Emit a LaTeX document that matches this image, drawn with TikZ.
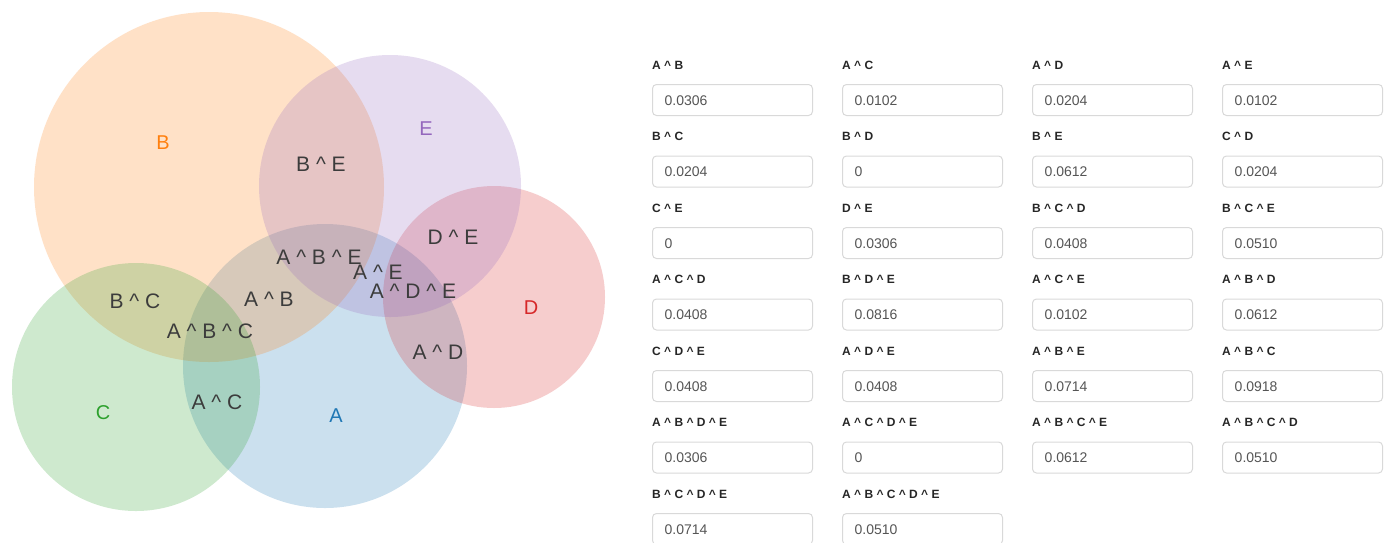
\documentclass[tikz,border=0pt]{standalone}
\usepackage{fontspec}
\setmainfont{Liberation Sans}
\newcommand{\andop}{ \textasciicircum{} }
\definecolor{setA}{HTML}{1F77B4}
\definecolor{setB}{HTML}{FF7F0E}
\definecolor{setC}{HTML}{2CA02C}
\definecolor{setD}{HTML}{D62728}
\definecolor{setE}{HTML}{9467BD}
\definecolor{inktext}{HTML}{3C3C3C}
\definecolor{fieldline}{HTML}{D9D9D9}
\definecolor{fieldtext}{HTML}{555555}
\begin{document}
\begin{tikzpicture}[x=1pt,y=-1pt,
  setdisc/.style={circle,fill opacity=0.23,draw=none},
  setname/.style={font=\fontsize{20}{20}\selectfont,inner sep=0pt},
  zone/.style={font=\fontsize{21}{21}\selectfont,text=inktext,inner sep=0pt},
  fieldlabel/.style={font=\fontsize{12}{12}\selectfont\bfseries,text=black!85,anchor=base west,inner sep=0pt},
  field/.style={draw=fieldline,line width=1pt,rounded corners=4pt,fill=white},
  fieldvalue/.style={font=\fontsize{14}{14}\selectfont,text=fieldtext,anchor=base west,inner sep=0pt}]
\useasboundingbox (0,0) rectangle (1388,542);

% the five sets
\fill[setdisc,fill=setA] (325,366) circle (142);
\fill[setdisc,fill=setB] (209,187) circle (175);
\fill[setdisc,fill=setC] (136,387) circle (124);
\fill[setdisc,fill=setD] (494,297) circle (111);
\fill[setdisc,fill=setE] (390,186) circle (131);

% set names
\node[setname,text=setB] (nB) at (163,143) {B};
\node[setname,text=setE] (nE) at (426,129) {E};
\node[setname,text=setD] (nD) at (531,308) {D};
\node[setname,text=setC] (nC) at (103,413) {C};
\node[setname,text=setA] (nA) at (336,416) {A};

% intersection zones
\node[zone] (zBE)  at (321,164) {B\andop E};
\node[zone] (zDE)  at (453,237) {D\andop E};
\node[zone] (zABE) at (319,257) {A\andop B\andop E};
\node[zone] (zAE)  at (378,272) {A\andop E};
\node[zone] (zADE) at (413,291) {A\andop D\andop E};
\node[zone] (zBC)  at (135,301) {B\andop C};
\node[zone] (zAB)  at (269,299) {A\andop B};
\node[zone] (zABC) at (210,331) {A\andop B\andop C};
\node[zone] (zAD)  at (438,352) {A\andop D};
\node[zone] (zAC)  at (217,402) {A\andop C};

% value fields: column x, row y
\foreach \lab/\val/\c/\r in {
  A\andop B/0.0306/0/0, A\andop C/0.0102/1/0, A\andop D/0.0204/2/0, A\andop E/0.0102/3/0,
  B\andop C/0.0204/0/1, B\andop D/0/1/1, B\andop E/0.0612/2/1, C\andop D/0.0204/3/1,
  C\andop E/0/0/2, D\andop E/0.0306/1/2, B\andop C\andop D/0.0408/2/2, B\andop C\andop E/0.0510/3/2,
  A\andop C\andop D/0.0408/0/3, B\andop D\andop E/0.0816/1/3, A\andop C\andop E/0.0102/2/3, A\andop B\andop D/0.0612/3/3,
  C\andop D\andop E/0.0408/0/4, A\andop D\andop E/0.0408/1/4, A\andop B\andop E/0.0714/2/4, A\andop B\andop C/0.0918/3/4,
  A\andop B\andop D\andop E/0.0306/0/5, A\andop C\andop D\andop E/0/1/5, A\andop B\andop C\andop E/0.0612/2/5, A\andop B\andop C\andop D/0.0510/3/5,
  B\andop C\andop D\andop E/0.0714/0/6, A\andop B\andop C\andop D\andop E/0.0510/1/6} {
  \pgfmathsetmacro{\fx}{652+190*\c}
  \pgfmathsetmacro{\fy}{69+71.5*\r}
  \node[fieldlabel] (lab-\c-\r) at (\fx,\fy) {\lab};
  \draw[field] (\fx+0.5,\fy+15.5) rectangle (\fx+160.5,\fy+46.5);
  \node[fieldvalue] (val-\c-\r) at (\fx+12.5,\fy+36) {\val};
}
\end{tikzpicture}
\end{document}
